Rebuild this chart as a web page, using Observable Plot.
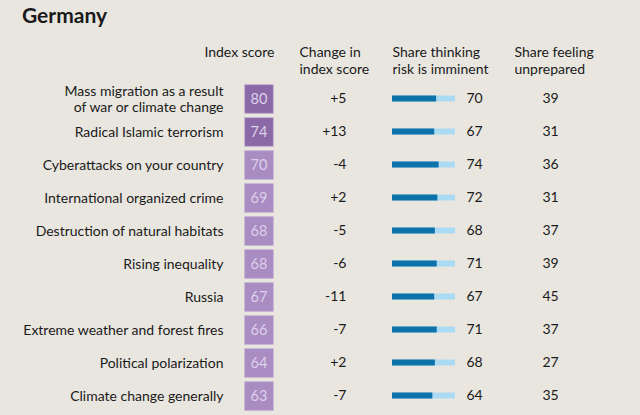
<!DOCTYPE html>
<html>
<head>
<meta charset="utf-8">
<script src="https://cdn.jsdelivr.net/npm/d3@7"></script>
<script src="https://cdn.jsdelivr.net/npm/@observablehq/plot@0.6"></script>
<style>
  html, body { margin: 0; padding: 0; background: #e9e6e0; }
  body { width: 640px; height: 415px; overflow: hidden; font-family: Lato, "Noto Sans", sans-serif; color: #1a1a1a; }
  #title { height: 32px; padding-left: 22px; font-size: 21px; font-weight: 700; line-height: 30px; }
  svg { display: block; }
</style>
</head>
<body>
<div id="title">Germany</div>
<div id="chart"></div>
<script>
const risks = [
  "Mass migration as a result\nof war or climate change",
  "Radical Islamic terrorism",
  "Cyberattacks on your country",
  "International organized crime",
  "Destruction of natural habitats",
  "Rising inequality",
  "Russia",
  "Extreme weather and forest fires",
  "Political polarization",
  "Climate change generally"
];
const indexScore = [80, 74, 70, 69, 68, 68, 67, 66, 64, 63];
const changeScore = ["+5", "+13", "-4", "+2", "-5", "-6", "-11", "-7", "+2", "-7"];
const shareImminent = [70, 67, 74, 72, 68, 71, 67, 71, 68, 64];
const shareUnprepared = [39, 31, 36, 31, 37, 39, 45, 37, 27, 35];
const headers = ["Index score", "Change in\nindex score", "Share thinking\nrisk is imminent", "Share feeling\nunprepared"];

const rows = risks.map((risk, i) => ({
  risk, index: indexScore[i], change: changeScore[i],
  imminent: shareImminent[i], unprepared: shareUnprepared[i]
}));

const font = "Lato, 'Noto Sans', sans-serif";
const ink = "#1a1a1a";
const fs = 14;
const rowMid = {y: "risk", frameAnchor: "middle", fontSize: fs, fill: ink};
const head = {x: () => 0, text: d => d, frameAnchor: "top", lineAnchor: "top", dy: -35, fontSize: fs, lineHeight: 1.2, fill: ink};

const chart = Plot.plot({
  width: 640,
  height: 383,
  marginTop: 48,
  marginBottom: 1,
  marginLeft: 392,
  marginRight: 185,
  style: {fontFamily: font, background: "transparent", color: ink},
  x: {domain: [0, 100], axis: null},
  y: {domain: risks, axis: null, padding: 0},
  color: {type: "threshold", domain: [72], range: ["#a98cc2", "#8b69a7"]},
  marks: [
    // headers
    Plot.text([headers[0]], {...head, dx: -118, textAnchor: "end"}),
    Plot.text([headers[1]], {...head, dx: -93, textAnchor: "start"}),
    Plot.text([headers[2]], {...head, dx: 0, textAnchor: "start"}),
    Plot.text([headers[3]], {...head, dx: 122, textAnchor: "start"}),
    // risk labels
    Plot.text(rows, {...rowMid, x: () => 0, text: "risk", dx: -169, textAnchor: "end", lineHeight: 1.15}),
    // index score boxes
    Plot.dot(rows, {x: () => 0, y: "risk", dx: -133.5, symbol: "square", r: 16.2, fill: "index", stroke: "#c2aed3", strokeWidth: 0.8}),
    Plot.text(rows, {...rowMid, x: () => 0, text: "index", dx: -133.5, fill: "#ddd1ea", fontSize: 14.5}),
    // change
    Plot.text(rows, {...rowMid, x: () => 0, text: "change", dx: -46, textAnchor: "end"}),
    // share imminent bars
    Plot.barX(rows, {x1: 0, x2: 100, y: "risk", fill: "#abdaf3", insetTop: 13.5, insetBottom: 13.5}),
    Plot.barX(rows, {x1: 0, x2: "imminent", y: "risk", fill: "#0d72aa", insetTop: 13.5, insetBottom: 13.5}),
    Plot.text(rows, {...rowMid, x: () => 100, text: "imminent", dx: 11, textAnchor: "start"}),
    // share unprepared
    Plot.text(rows, {...rowMid, x: () => 100, text: "unprepared", dx: 87, textAnchor: "start"})
  ]
});
document.getElementById("chart").appendChild(chart);
</script>
</body>
</html>
